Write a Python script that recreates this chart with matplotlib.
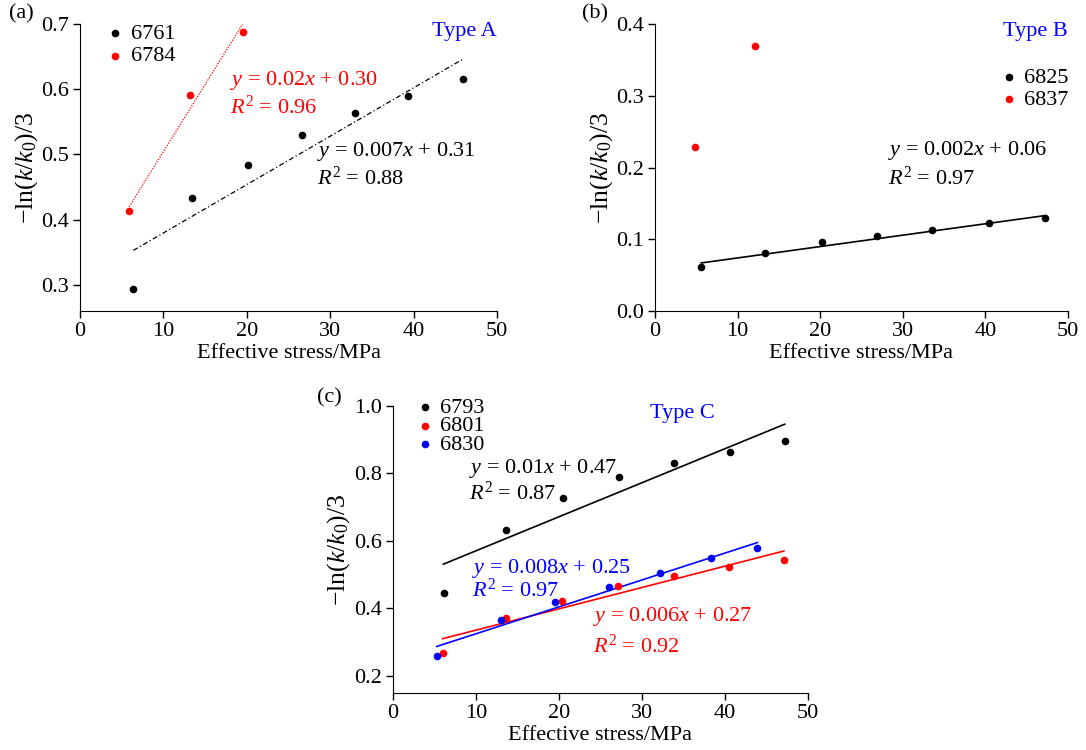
import numpy as np
import matplotlib
matplotlib.use('Agg')
from matplotlib import pyplot as plt

plt.rcParams['font.family'] = ['Liberation Serif', 'DejaVu Serif']
plt.rcParams['mathtext.fontset'] = 'custom'
plt.rcParams['mathtext.rm'] = 'Liberation Serif'
plt.rcParams['mathtext.it'] = 'Liberation Serif:italic'
plt.rcParams['font.size'] = 16

# (a) Type A
a_6761_x = [6.4, 13.4, 20.1, 26.6, 33.0, 39.3, 45.9]
a_6761_y = [0.293, 0.433, 0.484, 0.530, 0.563, 0.589, 0.615]
a_6761_fit_x = [6.4, 45.9]
a_6761_fit_y = [0.353, 0.646]
a_6784_x = [5.9, 13.2, 19.5]
a_6784_y = [0.413, 0.591, 0.688]
a_6784_fit_x = [5.9, 19.5]
a_6784_fit_y = [0.420, 0.700]

# (b) Type B
b_6825_x = [5.6, 13.3, 20.2, 26.9, 33.5, 40.4, 47.2]
b_6825_y = [0.061, 0.081, 0.096, 0.1045, 0.113, 0.123, 0.130]
b_6825_fit_x = [5.6, 47.2]
b_6825_fit_y = [0.067, 0.133]
b_6837_x = [4.8, 12.1]
b_6837_y = [0.229, 0.369]

# (c) Type C
c_6793_x = [6.2, 13.6, 20.5, 27.3, 33.9, 40.6, 47.2]
c_6793_y = [0.445, 0.633, 0.727, 0.789, 0.831, 0.865, 0.897]
c_6793_fit_x = [6.1, 47.2]
c_6793_fit_y = [0.531, 0.946]
c_6801_x = [6.0, 13.6, 20.4, 27.1, 33.9, 40.5, 47.1]
c_6801_y = [0.269, 0.372, 0.423, 0.467, 0.496, 0.524, 0.544]
c_6801_fit_x = [6.0, 47.1]
c_6801_fit_y = [0.310, 0.570]
c_6830_x = [5.3, 13.0, 19.6, 26.0, 32.2, 38.3, 43.9]
c_6830_y = [0.260, 0.366, 0.419, 0.464, 0.504, 0.549, 0.580]
c_6830_fit_x = [5.3, 43.9]
c_6830_fit_y = [0.287, 0.595]

RED = '#ff0000'
BLUE = '#0000ff'
ylab = r'$-\mathrm{ln}(k/k_0)/3$'
ms = 20

fig = plt.figure(figsize=(10.86, 7.5), dpi=100)
ax_a = fig.add_axes([0.0737, 0.5853, 0.384, 0.3827])
ax_b = fig.add_axes([0.6031, 0.5853, 0.3803, 0.3827])
ax_c = fig.add_axes([0.3616, 0.0764, 0.3824, 0.3823])

for ax in (ax_a, ax_b, ax_c):
    ax.spines['top'].set_visible(False)
    ax.spines['right'].set_visible(False)
    ax.tick_params(direction='out', length=5, width=1, pad=3)
    ax.set_xlim(0, 50)
    ax.set_xticks([0, 10, 20, 30, 40, 50])
    ax.set_xlabel('Effective stress/MPa', labelpad=2)
    ax.set_ylabel(ylab, fontsize=18.5, labelpad=1)

leg_kw = dict(frameon=False, handletextpad=0.1,
              borderpad=0.2, handlelength=1.2)

# panel a
ax_a.scatter(a_6761_x, a_6761_y, s=ms, color='black', label='6761', zorder=3)
ax_a.scatter(a_6784_x, a_6784_y, s=ms, color=RED, label='6784', zorder=3)
ax_a.plot(a_6761_fit_x, a_6761_fit_y, color='black', lw=0.9, ls=(0, (4, 2, 1, 2)))
ax_a.plot(a_6784_fit_x, a_6784_fit_y, color=RED, lw=0.9, ls=(0, (1, 1.2)))
ax_a.set_ylim(0.26, 0.70)
ax_a.set_yticks([0.3, 0.4, 0.5, 0.6, 0.7])
ax_a.set_yticklabels(['0.3', '0.4', '0.5', '0.6', '0.7'])
ax_a.text(18.0, 0.614, r'$y$ = 0.02$x$ + 0.30', color=RED, va='center')
ax_a.text(18.0, 0.573, r'$R^2$ = 0.96', color=RED, va='center')
ax_a.text(28.4, 0.504, r'$y$ = 0.007$x$ + 0.31', color='black', va='center')
ax_a.text(28.4, 0.463, r'$R^2$ = 0.88', color='black', va='center')
ax_a.text(42.2, 0.688, 'Type A', color=BLUE, va='center')
ax_a.legend(loc='upper left', bbox_to_anchor=(0.015, 1.055), labelspacing=0.07, **leg_kw)

# panel b
ax_b.scatter(b_6825_x, b_6825_y, s=ms, color='black', label='6825', zorder=3)
ax_b.scatter(b_6837_x, b_6837_y, s=ms, color=RED, label='6837', zorder=3)
ax_b.plot(b_6825_fit_x, b_6825_fit_y, color='black', lw=1.2)
ax_b.set_ylim(0, 0.4)
ax_b.set_yticks([0.0, 0.1, 0.2, 0.3, 0.4])
ax_b.set_yticklabels(['0.0', '0.1', '0.2', '0.3', '0.4'])
ax_b.text(28.2, 0.224, r'$y$ = 0.002$x$ + 0.06', color='black', va='center')
ax_b.text(28.2, 0.185, r'$R^2$ = 0.97', color='black', va='center')
ax_b.text(42.1, 0.389, 'Type B', color=BLUE, va='center')
ax_b.legend(loc='upper right', bbox_to_anchor=(1.04, 0.903), labelspacing=0.07, **leg_kw)

# panel c
ax_c.scatter(c_6793_x, c_6793_y, s=ms, color='black', label='6793', zorder=3)
ax_c.scatter(c_6801_x, c_6801_y, s=ms, color=RED, label='6801', zorder=3)
ax_c.scatter(c_6830_x, c_6830_y, s=ms, color=BLUE, label='6830', zorder=3)
ax_c.plot(c_6793_fit_x, c_6793_fit_y, color='black', lw=1.2)
ax_c.plot(c_6801_fit_x, c_6801_fit_y, color=RED, lw=1.2)
ax_c.plot(c_6830_fit_x, c_6830_fit_y, color=BLUE, lw=1.2)
ax_c.set_ylim(0.15, 1.0)
ax_c.set_yticks([0.2, 0.4, 0.6, 0.8, 1.0])
ax_c.set_yticklabels(['0.2', '0.4', '0.6', '0.8', '1.0'])
ax_c.text(9.2, 0.815, r'$y$ = 0.01$x$ + 0.47', color='black', va='center')
ax_c.text(9.2, 0.741, r'$R^2$ = 0.87', color='black', va='center')
ax_c.text(9.5, 0.519, r'$y$ = 0.008$x$ + 0.25', color=BLUE, va='center')
ax_c.text(9.5, 0.453, r'$R^2$ = 0.97', color=BLUE, va='center')
ax_c.text(24.1, 0.376, r'$y$ = 0.006$x$ + 0.27', color=RED, va='center')
ax_c.text(24.1, 0.287, r'$R^2$ = 0.92', color=RED, va='center')
ax_c.text(31.0, 0.978, 'Type C', color=BLUE, va='center')
ax_c.legend(loc='upper left', bbox_to_anchor=(0.008, 1.085), labelspacing=-0.08, **leg_kw)

fig.text(0.008, 0.982, '(a)', va='center', ha='left')
fig.text(0.536, 0.982, '(b)', va='center', ha='left')
fig.text(0.292, 0.47, '(c)', va='center', ha='left')

fig.savefig('out.png', dpi=100)
